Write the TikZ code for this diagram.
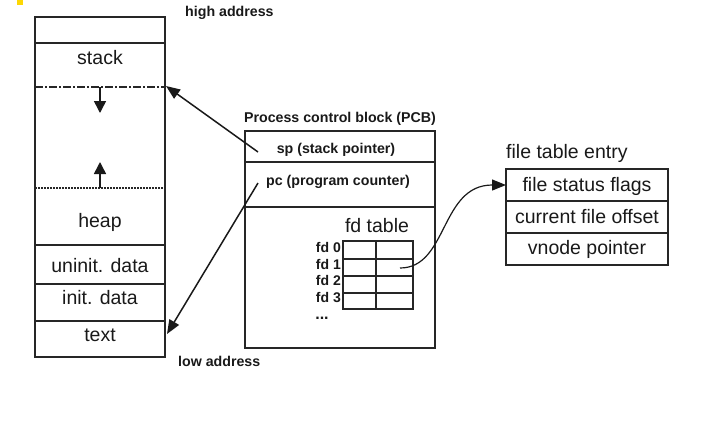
\documentclass[tikz,border=0pt]{standalone}
\usepackage{fontspec}
\setmainfont{Liberation Sans}
\usetikzlibrary{positioning,calc,arrows.meta}

\begin{document}
\begin{tikzpicture}[x=1pt,y=-1pt,
    big/.style={font=\fontsize{19.5}{22}\selectfont, inner sep=0pt, text=black!90},
    small/.style={font=\bfseries\fontsize{14.2}{17}\selectfont, inner sep=0pt, text=black!90},
    fdlab/.style={font=\bfseries\fontsize{14}{15}\selectfont, inner sep=0pt, anchor=east, text=black!90},
    box/.style={line width=1.5pt, draw=black!85},
    ptr/.style={-{Triangle[length=14pt,width=11pt]}, line width=1.5pt, draw=black!90},
    growarrow/.style={-{Triangle[length=12pt,width=12pt]}, line width=1.5pt, draw=black!90}
]
    \useasboundingbox (0,0) rectangle (720,424);
    \fill[yellow!75!orange] (17,0) rectangle (23,5);

    % memory layout of the process
    \draw[box] (35,17) rectangle (165,357);
    \foreach \y in {43,245,284,321}
        \draw[box] (35,\y) -- (165,\y);
    \draw[box, dash pattern=on 8pt off 2pt on 2pt off 2pt] (35,87) -- (165,87);
    \draw[box, dash pattern=on 2pt off 1pt] (35,188) -- (165,188);

    \node[big] (stack) at (100,58) {stack};
    \node[big] (heap) at (100,222) {heap};
    \node[big] (uninit) at (100,266) {uninit. data};
    \node[big] (init) at (100,298) {init. data};
    \node[big] (text) at (100,335) {text};

    \coordinate (stackgrow) at (100,87);
    \coordinate (stackend) at (100,113);
    \coordinate (heapgrow) at (100,188);
    \coordinate (heapend) at (100,162);
    \draw[growarrow] (stackgrow) -- (stackend);
    \draw[growarrow] (heapgrow) -- (heapend);

    \node[small, anchor=west] (high) at (185,13) {high address};
    \node[small, anchor=west] (low) at (178,361) {low address};

    % PCB
    \node[small] (pcbtitle) at (340,119) {Process control block (PCB)};
    \draw[box] (245,131) rectangle (435,348);
    \draw[box] (245,162) -- (435,162);
    \draw[box] (245,207) -- (435,207);
    \node[small] (sp) at (336,150) {sp (stack pointer)};
    \node[small] (pc) at (338,182) {pc (program counter)};
    \node[big] (fdtable) at (377,226) {fd table};

    % fd table
    \draw[box, line width=1.2pt] (343,241) rectangle (413,309);
    \foreach \y in {259,276,293}
        \draw[box, line width=1.2pt] (343,\y) -- (413,\y);
    \draw[box, line width=1.2pt] (376,241) -- (376,309);
    \foreach \i/\y in {0/247,1/264,2/280,3/297}
        \node[fdlab] (fd\i) at (341,\y) {fd \i};
    \node[fdlab, anchor=center, font=\bfseries\fontsize{16}{16}\selectfont] (fddots) at (322,318) {...};
    \coordinate (fdcell) at (400,268);

    % file table entry
    \node[big, anchor=west] (fttitle) at (506,153) {file table entry};
    \draw[box] (506,169) rectangle (668,265);
    \draw[box] (506,201) -- (668,201);
    \draw[box] (506,233) -- (668,233);
    \node[big] (flags) at (587,186) {file status flags};
    \node[big] (offset) at (587,217) {current file offset};
    \node[big] (vnode) at (587,249) {vnode pointer};
    \coordinate (flagsin) at (506,185);

    % pointers
    \coordinate (spfrom) at (258,152);
    \coordinate (spto) at (166,86);
    \coordinate (pcfrom) at (258,183);
    \coordinate (pcto) at (167,334);
    \draw[ptr] (spfrom) -- (spto);
    \draw[ptr] (pcfrom) -- (pcto);
    \draw[ptr, line width=1.2pt] (fdcell) .. controls (448,268) and (440,185) .. (flagsin);
\end{tikzpicture}
\end{document}
